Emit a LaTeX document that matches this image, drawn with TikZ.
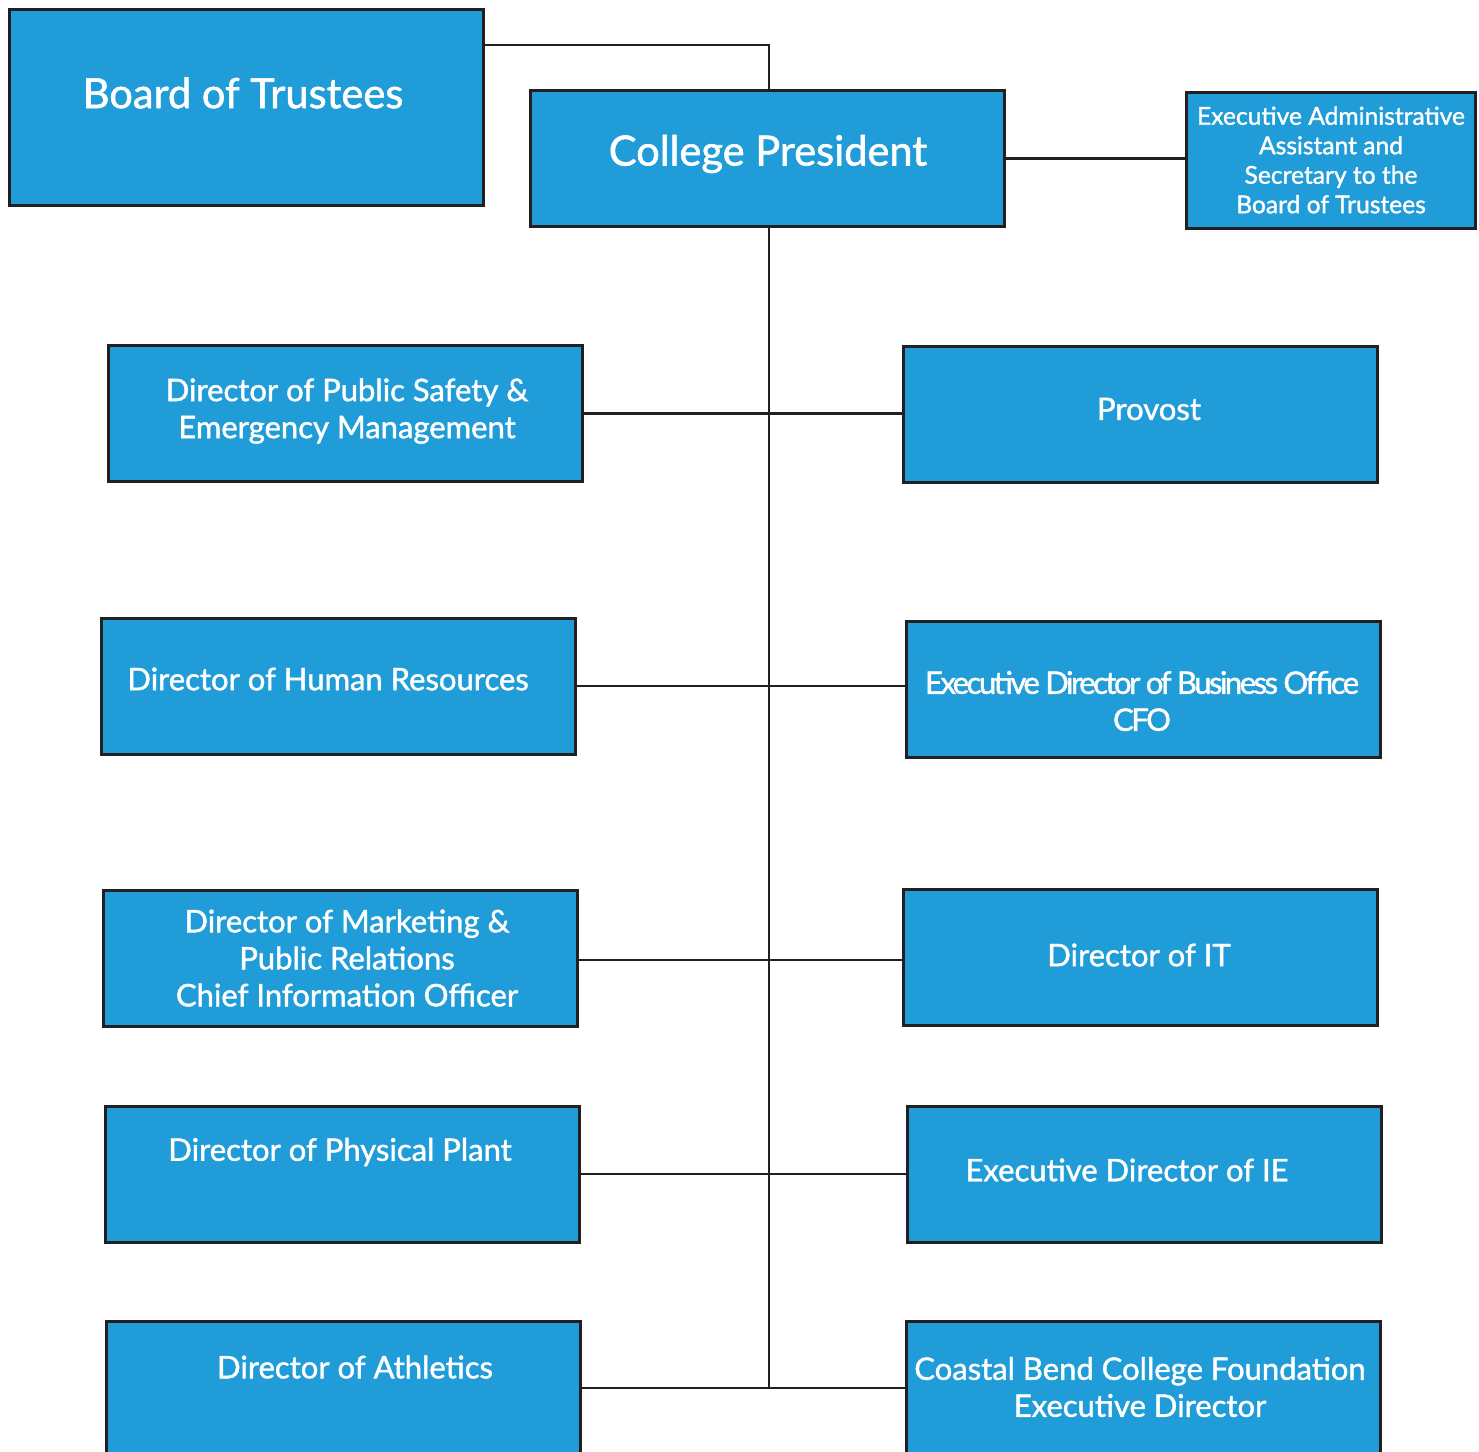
\documentclass[tikz,border=0pt]{standalone}
\usepackage{fontspec}
\setmainfont{Lato}[FakeBold=1.4,AutoFakeBold=1.4]
\newfontfamily\lsemi{Lato}[FakeBold=1.4,RawFeature={embolden=1.4}]
\definecolor{cblue}{HTML}{209CD8}
\definecolor{bord}{HTML}{231F20}
\begin{document}
\begin{tikzpicture}[x=0.5pt,y=-0.5pt,
  box/.style={draw=bord, fill=cblue, line width=1.5pt, inner sep=0pt, minimum width=237pt, minimum height=68pt},
  txt/.style={text=white, align=center, inner sep=0pt, font=\lsemi\fontsize{15.5}{18.5}\selectfont},
  big/.style={text=white, align=center, inner sep=0pt, font=\lsemi\fontsize{20.8}{26}\selectfont},
  small/.style={text=white, align=center, inner sep=0pt, font=\lsemi\fontsize{12.3}{14.75}\selectfont},
  conn/.style={draw=bord, line width=1.2pt}]
\useasboundingbox (0,0) rectangle (1479,1452);
% boxes
\node[box, minimum height=98pt] (bt) at (246,107) {};
\node[box] (cp) at (767.5,158.5) {};
\node[box, minimum width=144.5pt] (ea) at (1330.5,160.5) {};
\node[box] (ps) at (345,413.5) {};
\node[box] (pv) at (1140,414) {};
\node[box] (hr) at (338,686) {};
\node[box] (cfo) at (1143,689) {};
\node[box] (mk) at (340,958) {};
\node[box] (it) at (1140,957) {};
\node[box] (pp) at (342,1174) {};
\node[box] (ie) at (1144,1174) {};
\node[box] (at) at (343.5,1389) {};
\node[box] (fd) at (1143,1389) {};
% texts
\node[big] (btt) at (243,93) {Board of Trustees};
\node[big] (cpt) at (768,154) {College President};
\node[small] (eat) at (1331,160) {Executive Administrative\\Assistant and\\Secretary to the\\Board of Trustees};
\node[txt] (pst) at (347,411) {Director of Public Safety \&\\Emergency Management};
\node[txt] (pvt) at (1149,409) {Provost};
\node[txt] (hrt) at (328,679) {Director of Human Resources};
\node[txt, font=\lsemi\fontsize{15.5}{18.5}\selectfont\addfontfeatures{LetterSpace=-8}] (cfot) at (1142,701) {Executive Director of Business Office\\CFO};
\node[txt] (mkt) at (347,958) {Director of Marketing \&\\Public Relations\\Chief Information Officer};
\node[txt] (itt) at (1139,955) {Director of IT};
\node[txt] (ppt) at (340,1152) {Director of Physical Plant};
\node[txt] (iet) at (1127,1170) {Executive Director of IE};
\node[txt] (att) at (355,1367) {Director of Athletics};
\node[txt] (fdt) at (1140,1387) {Coastal Bend College Foundation\\Executive Director};
% connectors
\coordinate (j0) at (769,45);
\coordinate (jend) at (769,1388);
\draw[conn] (bt.east |- j0) -- (j0) -- (j0 |- cp.north);
\draw[conn] (cp.east) -- (cp.east -| ea.west);
\draw[conn] (cp.south -| j0) -- (jend);
\draw[conn] (ps.east) -- (ps.east -| pv.west);
\draw[conn] (hr.east) -- (hr.east -| cfo.west);
\coordinate (r3) at (769,960);
\draw[conn] (mk.east |- r3) -- (it.west |- r3);
\draw[conn] (pp.east) -- (pp.east -| ie.west);
\draw[conn] (at.east |- jend) -- (fd.west |- jend);
\end{tikzpicture}
\end{document}
